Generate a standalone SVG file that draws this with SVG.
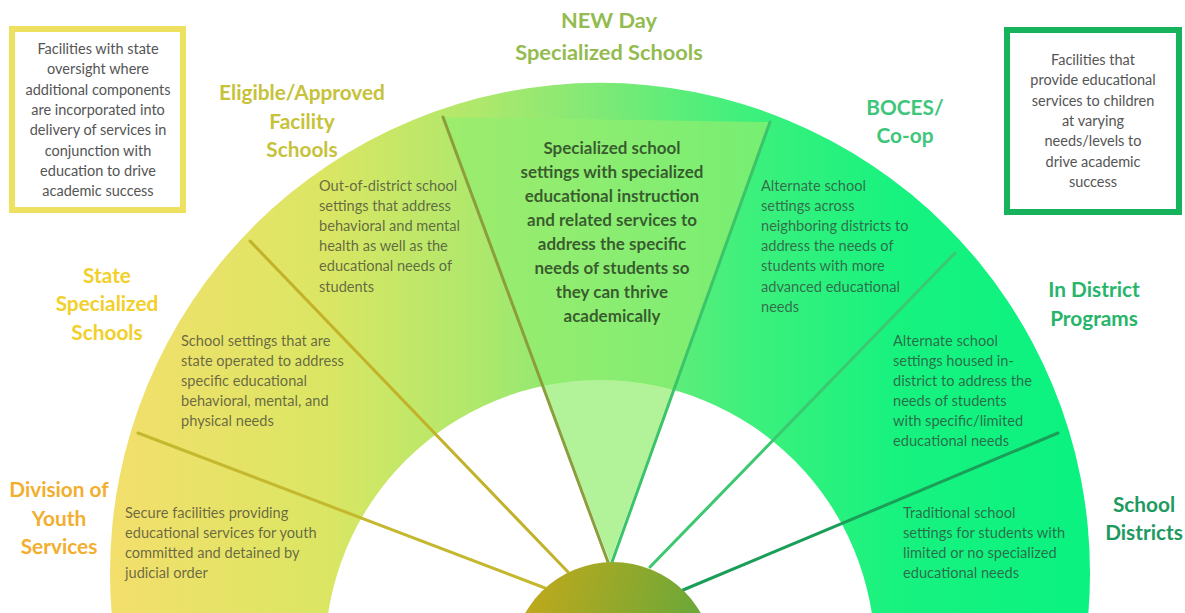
<svg xmlns="http://www.w3.org/2000/svg" width="1185" height="613" viewBox="0 0 1185 613">
<defs>
<linearGradient id="band" gradientUnits="userSpaceOnUse" x1="110" y1="0" x2="1090" y2="0">
<stop offset="0" stop-color="#f3df6c"/>
<stop offset="0.22" stop-color="#dbe663"/>
<stop offset="0.38" stop-color="#ade86c"/>
<stop offset="0.5" stop-color="#7fe976"/>
<stop offset="0.65" stop-color="#3ef07c"/>
<stop offset="0.8" stop-color="#18f27f"/>
<stop offset="1" stop-color="#0af280"/>
</linearGradient>
<linearGradient id="hub" x1="0" y1="0" x2="1" y2="0.3">
<stop offset="0" stop-color="#cba917"/>
<stop offset="1" stop-color="#62a83c"/>
</linearGradient>
<style>
.cat{font-family:Lato,"Open Sans",sans-serif;font-weight:700;font-size:20.8px;text-anchor:middle}
.big{font-size:21.8px}
.body{font-family:Lato,"Open Sans",sans-serif;font-size:14.6px;fill:#333333;fill-opacity:0.7}
.mid{font-family:Lato,"Open Sans",sans-serif;font-weight:700;font-size:17px;text-anchor:middle;fill:#22331a;fill-opacity:0.78}
.box{font-family:Lato,"Open Sans",sans-serif;font-size:14.5px;fill:#555555;text-anchor:middle}
.div{fill:none;stroke-width:3;stroke-linecap:round}
</style>
</defs>
<rect width="1185" height="613" fill="#ffffff"/>

<g id="fan">
<path d="M110,573 A490,490 0 1 1 1090,573 A490,490 0 1 1 110,573 Z M325,655 A275,275 0 1 0 875,655 A275,275 0 1 0 325,655 Z" fill="url(#band)" fill-rule="evenodd"/>
<polygon points="443,117 770,122 610,562" fill="#92ee6f" fill-opacity="0.7"/>
</g>

<g id="connectors">
<line class="div" x1="138" y1="433" x2="545" y2="588" stroke="#c4b82e"/>
<line class="div" x1="250" y1="241" x2="568" y2="572" stroke="#c2b22a"/>
<line class="div" x1="443" y1="117" x2="608" y2="562" stroke="#8c9e3c"/>
<line class="div" x1="770" y1="122" x2="612" y2="562" stroke="#3cc46a"/>
<line class="div" x1="955" y1="253" x2="650" y2="567" stroke="#3cc870"/>
<line class="div" x1="1058" y1="433" x2="683" y2="590" stroke="#1a9e58"/>
</g>

<g id="hub-node">
<circle cx="613" cy="663" r="101" fill="url(#hub)"/>
</g>

<g id="box-left">
<rect x="12" y="29" width="171" height="181" fill="#ffffff" stroke="#efe160" stroke-width="6"/>
<text class="box"><tspan x="98" y="54">Facilities with state</tspan><tspan x="98" y="74.3">oversight where</tspan><tspan x="98" y="94.6">additional components</tspan><tspan x="98" y="114.9">are incorporated into</tspan><tspan x="98" y="135.2">delivery of services in</tspan><tspan x="98" y="155.5">conjunction with</tspan><tspan x="98" y="175.8">education to drive</tspan><tspan x="98" y="196.1">academic success</tspan></text>
</g>

<g id="box-right">
<rect x="1007" y="30" width="172" height="182" fill="#ffffff" stroke="#17b35c" stroke-width="6"/>
<text class="box"><tspan x="1093" y="65">Facilities that</tspan><tspan x="1093" y="85.3">provide educational</tspan><tspan x="1093" y="105.6">services to children</tspan><tspan x="1093" y="125.9">at varying</tspan><tspan x="1093" y="146.2">needs/levels to</tspan><tspan x="1093" y="166.5">drive academic</tspan><tspan x="1093" y="186.8">success</tspan></text>
</g>

<g id="dys">
<text class="cat" fill="#f2ae2e"><tspan x="59" y="497">Division of</tspan><tspan x="59" y="526">Youth</tspan><tspan x="59" y="554">Services</tspan></text>
<text class="body"><tspan x="125" y="518">Secure facilities providing</tspan><tspan x="125" y="538">educational services for youth</tspan><tspan x="125" y="558">committed and detained by</tspan><tspan x="125" y="578">judicial order</tspan></text>
</g>

<g id="state">
<text class="cat" fill="#f2cf2a"><tspan x="107" y="283">State</tspan><tspan x="107" y="311">Specialized</tspan><tspan x="107" y="340">Schools</tspan></text>
<text class="body"><tspan x="181" y="346">School settings that are</tspan><tspan x="181" y="366">state operated to address</tspan><tspan x="181" y="386">specific educational</tspan><tspan x="181" y="406">behavioral, mental, and</tspan><tspan x="181" y="426">physical needs</tspan></text>
</g>

<g id="eligible">
<text class="cat" fill="#c6c23a"><tspan x="302" y="100">Eligible/Approved</tspan><tspan x="302" y="129">Facility</tspan><tspan x="302" y="157">Schools</tspan></text>
<text class="body"><tspan x="319" y="191">Out-of-district school</tspan><tspan x="319" y="211">settings that address</tspan><tspan x="319" y="231">behavioral and mental</tspan><tspan x="319" y="251">health as well as the</tspan><tspan x="319" y="271">educational needs of</tspan><tspan x="319" y="292">students</tspan></text>
</g>

<g id="newday">
<text class="cat big" fill="#94bb50"><tspan x="609" y="28">NEW Day</tspan><tspan x="609" y="60">Specialized Schools</tspan></text>
<text class="mid"><tspan x="612" y="154">Specialized school</tspan><tspan x="612" y="178">settings with specialized</tspan><tspan x="612" y="202">educational instruction</tspan><tspan x="612" y="226">and related services to</tspan><tspan x="612" y="250">address the specific</tspan><tspan x="612" y="274">needs of students so</tspan><tspan x="612" y="298">they can thrive</tspan><tspan x="612" y="322">academically</tspan></text>
</g>

<g id="boces">
<text class="cat" fill="#40c67a"><tspan x="905" y="115">BOCES/</tspan><tspan x="905" y="143">Co-op</tspan></text>
<text class="body"><tspan x="761" y="191">Alternate school</tspan><tspan x="761" y="211">settings across</tspan><tspan x="761" y="231">neighboring districts to</tspan><tspan x="761" y="251">address the needs of</tspan><tspan x="761" y="271">students with more</tspan><tspan x="761" y="292">advanced educational</tspan><tspan x="761" y="312">needs</tspan></text>
</g>

<g id="indistrict">
<text class="cat" fill="#27b56b"><tspan x="1094" y="297">In District</tspan><tspan x="1094" y="326">Programs</tspan></text>
<text class="body"><tspan x="893" y="346">Alternate school</tspan><tspan x="893" y="366">settings housed in-</tspan><tspan x="893" y="386">district to address the</tspan><tspan x="893" y="406">needs of students</tspan><tspan x="893" y="426">with specific/limited</tspan><tspan x="893" y="446">educational needs</tspan></text>
</g>

<g id="schooldistricts">
<text class="cat" fill="#1e9a60"><tspan x="1144" y="512">School</tspan><tspan x="1144" y="540">Districts</tspan></text>
<text class="body"><tspan x="903" y="518">Traditional school</tspan><tspan x="903" y="538">settings for students with</tspan><tspan x="903" y="558">limited or no specialized</tspan><tspan x="903" y="578">educational needs</tspan></text>
</g>
</svg>
